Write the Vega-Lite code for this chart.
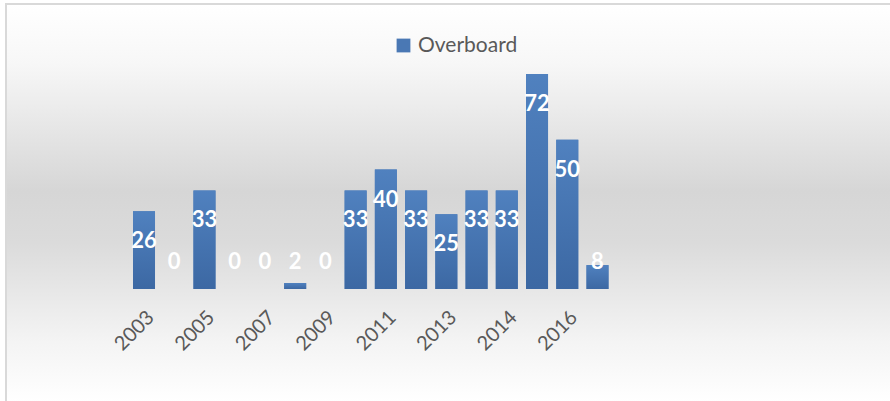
{
  "$schema": "https://vega.github.io/schema/vega-lite/v6.json",
  "width": 885,
  "height": 398,
  "autosize": {"type": "none"},
  "padding": {"left": 6, "top": 4, "right": 0, "bottom": 0},
  "background": "#ffffff",
  "view": {
    "stroke": "#d9d9d9",
    "strokeWidth": 2,
    "fill": {
      "gradient": "linear",
      "x1": 0, "y1": 0, "x2": 0, "y2": 1,
      "stops": [
        {"offset": 0, "color": "#ffffff"},
        {"offset": 0.15, "color": "#f7f7f7"},
        {"offset": 0.47, "color": "#d6d6d6"},
        {"offset": 0.6, "color": "#dbdbdb"},
        {"offset": 0.85, "color": "#f4f4f4"},
        {"offset": 1, "color": "#ffffff"}
      ]
    }
  },
  "data": {
    "values": [
      {"year": "2003", "value": 26},
      {"year": "2004", "value": 0},
      {"year": "2005", "value": 33},
      {"year": "2006", "value": 0},
      {"year": "2007", "value": 0},
      {"year": "2008", "value": 2},
      {"year": "2009", "value": 0},
      {"year": "2010", "value": 33},
      {"year": "2011", "value": 40},
      {"year": "2012", "value": 33},
      {"year": "2013", "value": 25},
      {"year": "2013b", "value": 33},
      {"year": "2014", "value": 33},
      {"year": "2015", "value": 72},
      {"year": "2016", "value": 50},
      {"year": "2017", "value": 8}
    ]
  },
  "encoding": {
    "x": {
      "field": "year",
      "type": "nominal",
      "sort": null,
      "scale": {"range": [127, 602.5], "paddingInner": 0.272, "paddingOuter": 0},
      "axis": {
        "title": null,
        "domain": false,
        "ticks": false,
        "grid": false,
        "values": ["2003", "2005", "2007", "2009", "2011", "2013", "2014", "2016"],
        "labelAngle": -45,
        "labelFont": "Lato",
        "labelFontSize": 20,
        "labelColor": "#595959",
        "labelPadding": 18,
        "labelDx": -7,
        "offset": -113
      }
    }
  },
  "layer": [
    {
      "mark": {"type": "bar", "strokeWidth": 0},
      "encoding": {
        "y": {
          "field": "value",
          "type": "quantitative",
          "scale": {"domain": [-37.84, 95.44], "nice": false, "zero": false},
          "axis": null
        },
        "color": {
          "datum": "Overboard",
          "type": "nominal",
          "scale": {"range": ["#4a78b4"]},
          "legend": {
            "title": null,
            "orient": "none",
            "legendX": 387,
            "legendY": 31,
            "symbolType": "square",
            "symbolSize": 190,
            "symbolStrokeWidth": 0,
            "labelFont": "Lato",
            "labelFontSize": 21,
            "labelColor": "#595959",
            "labelOffset": 4
          }
        }
      }
    },
    {
      "mark": {
        "type": "bar",
        "strokeWidth": 0,
        "color": {
          "gradient": "linear",
          "x1": 0, "y1": 0, "x2": 0, "y2": 1,
          "stops": [
            {"offset": 0, "color": "#5081bf"},
            {"offset": 1, "color": "#3c68a3"}
          ]
        }
      },
      "encoding": {
        "y": {"field": "value", "type": "quantitative"}
      }
    },
    {
      "transform": [{"filter": "datum.value >= 10"}],
      "mark": {"type": "text", "dy": 30, "font": "Lato", "fontWeight": "bold", "fontSize": 22, "color": "#ffffff", "baseline": "middle"},
      "encoding": {
        "y": {"field": "value", "type": "quantitative"},
        "text": {"field": "value", "type": "quantitative"}
      }
    },
    {
      "transform": [{"filter": "datum.value < 10"}],
      "mark": {"type": "text", "dy": -27, "font": "Lato", "fontWeight": "bold", "fontSize": 22, "color": "#ffffff", "baseline": "middle"},
      "encoding": {
        "y": {"datum": 0, "type": "quantitative"},
        "text": {"field": "value", "type": "quantitative"}
      }
    }
  ]
}
